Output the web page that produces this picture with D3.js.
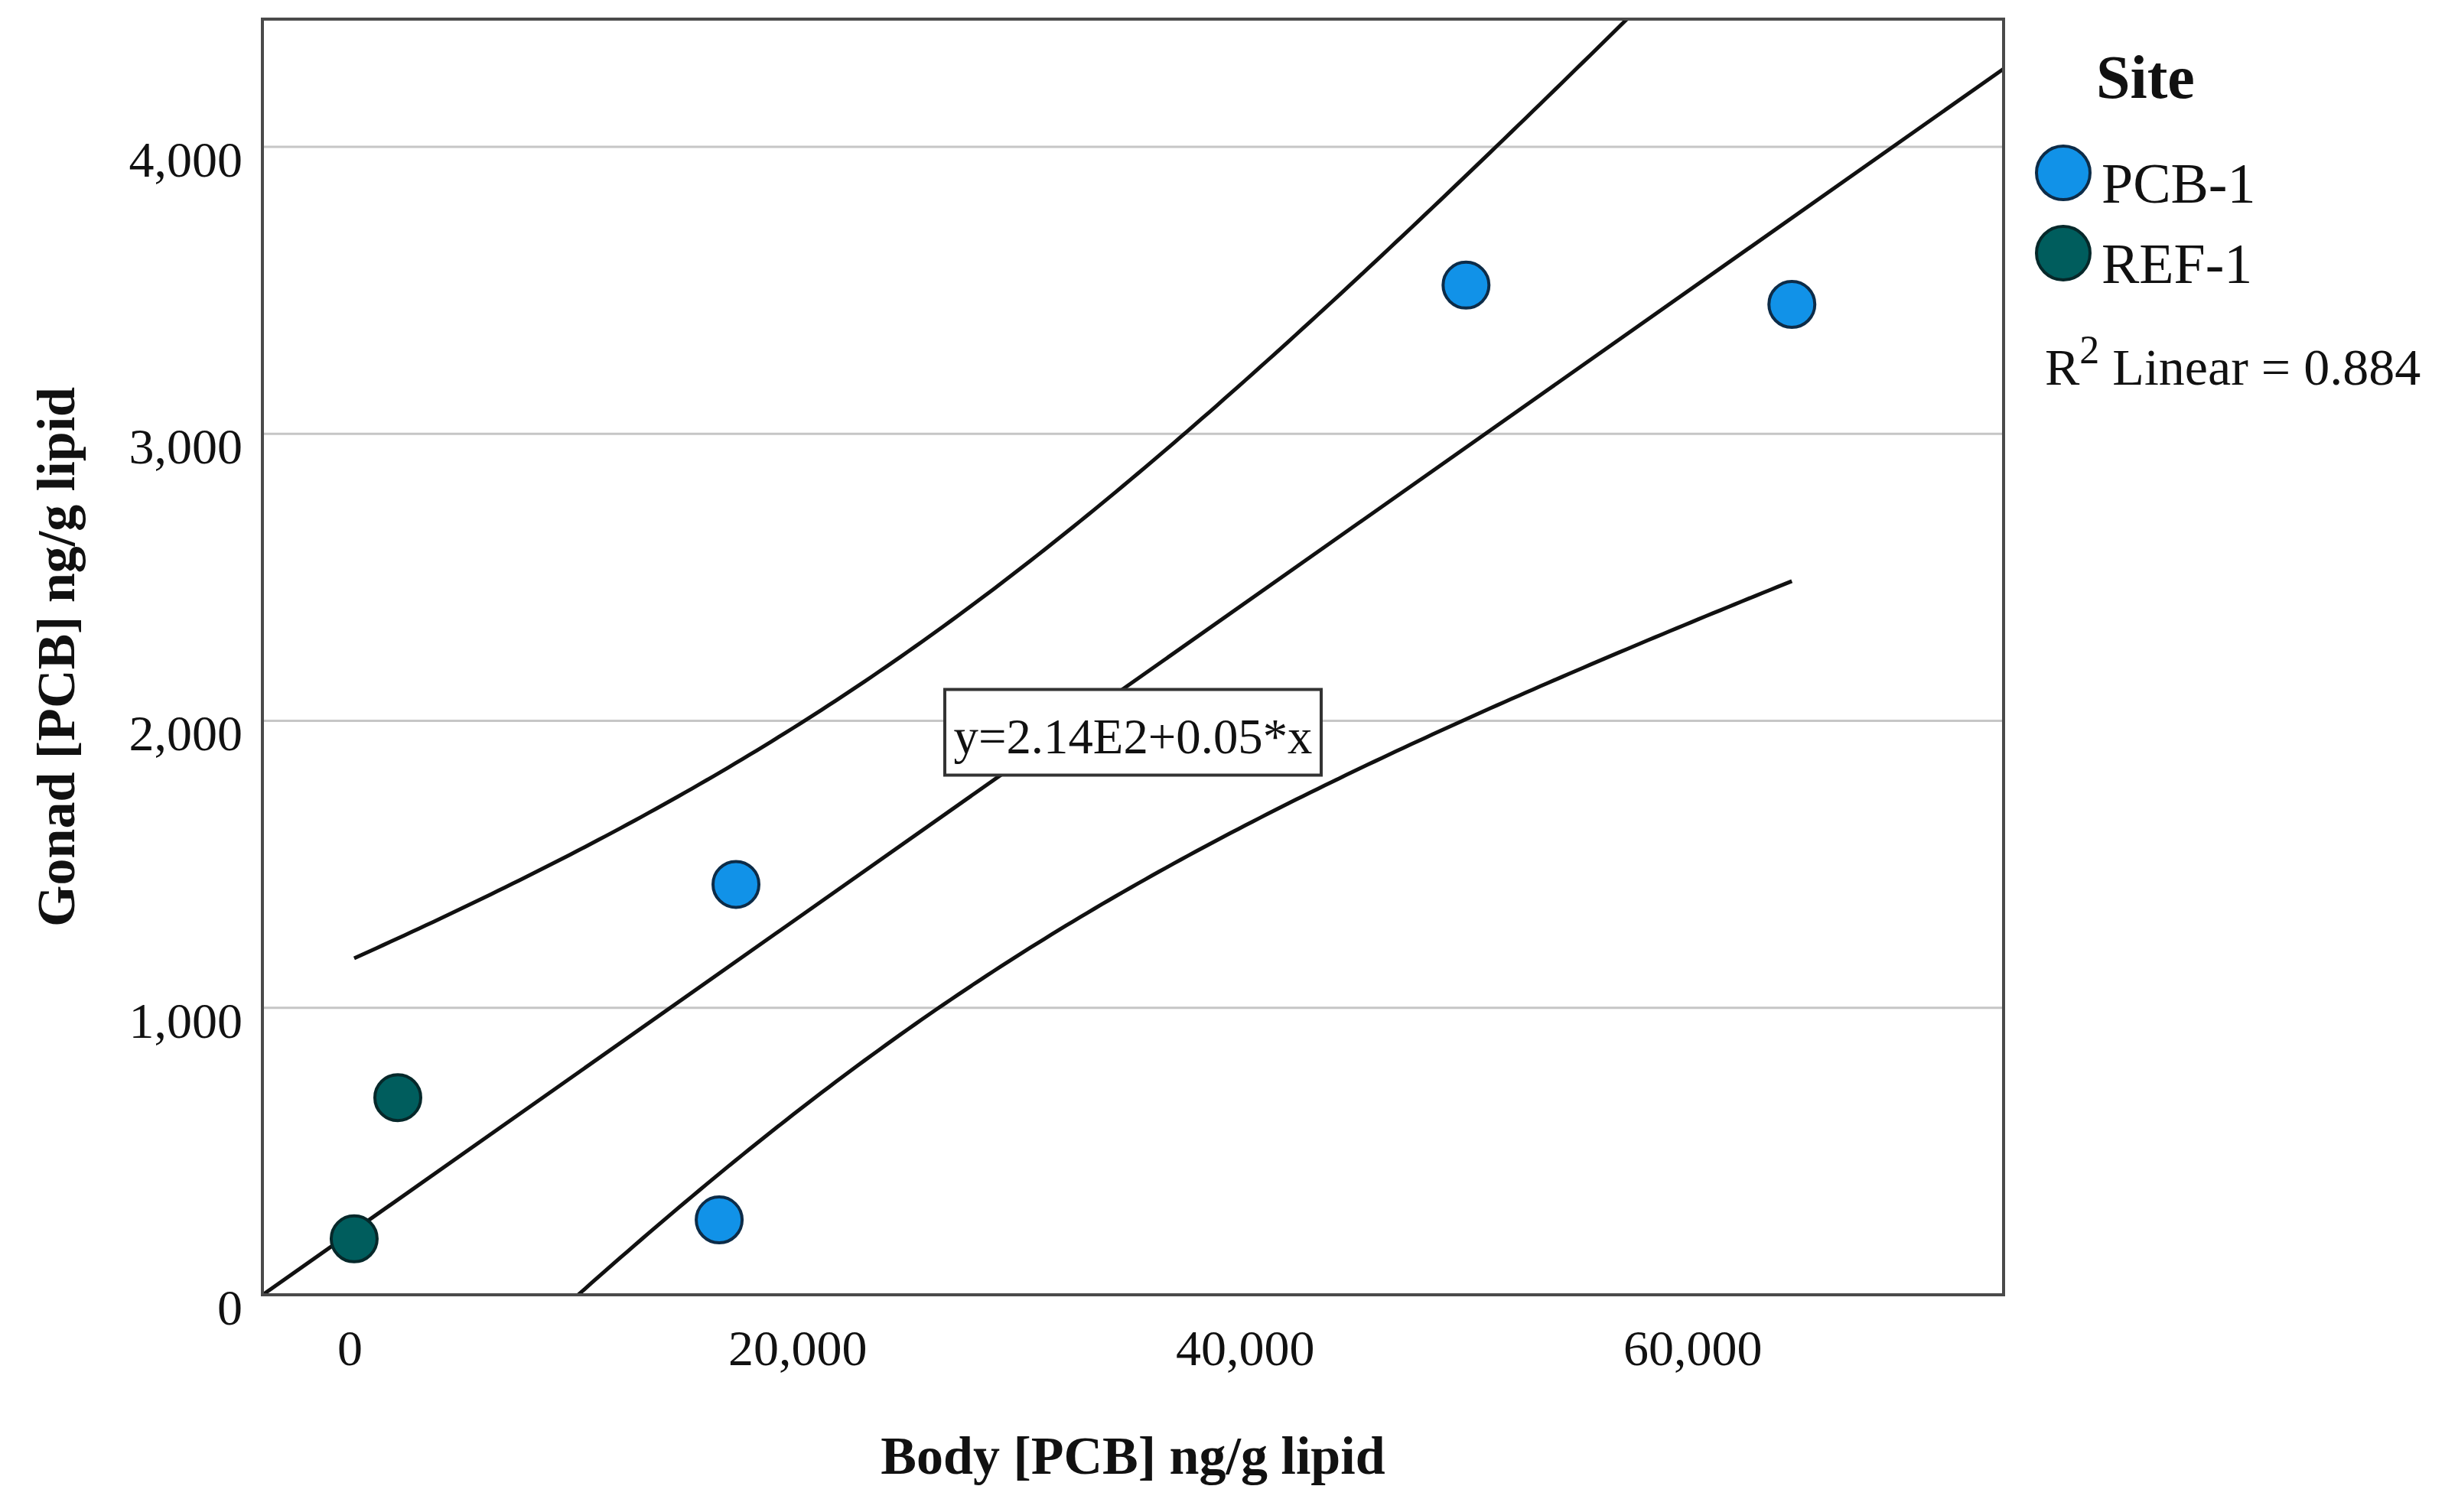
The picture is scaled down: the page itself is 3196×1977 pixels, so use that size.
<!DOCTYPE html>
<html>
<head>
<meta charset="utf-8">
<script src="https://cdn.jsdelivr.net/npm/d3@7"></script>
<style>
    body { margin: 0; background: #ffffff; }
    text { font-family: 'Liberation Serif', 'DejaVu Serif', serif; fill: #111111; }
</style>
</head>
<body>
<div id="graph"></div>
<script>
// The data...
var sites       = [ 'PCB-1', 'REF-1' ];
var siteColours = [ '#1192e8', '#005d5d' ];
var siteStroke  = [ '#0d2c48', '#06282a' ];

var bodyPCB   = [ 17260, 16510, 49880, 64440, 200, 2150 ];
var gonadPCB  = [ 1430,  261,   3518,  3451,  195, 687 ];
var pointSite = [ 0,     0,     0,     0,     1,   1 ];

var xTicks = [ 0, 20000, 40000, 60000 ];
var yTicks = [ 0, 1000, 2000, 3000, 4000 ];

var xDomain = [ -3900, 73900 ];
var yDomain = [ 0, 4445 ];

var equationText = 'y=2.14E2+0.05*x';
var equationAt   = [ 35000, 1960 ];
var r2Value      = '0.884';

// t(0.975, df = 4) for the 95% mean confidence band
var tCrit = 2.776;

var margin = { top: 25, right: 577, bottom: 284, left: 343 };
var width  = 3196 - margin.left - margin.right;
var height = 1977 - margin.top - margin.bottom;

var svg = d3.select ('#graph').append ('svg')
            .attr ('width', 3196)
            .attr ('height', 1977);

var g = svg.append ('g')
           .attr ('transform', 'translate(' + margin.left + ',' + margin.top + ')');

var xScale = d3.scaleLinear ().domain (xDomain).range ([ 0, width ]);
var yScale = d3.scaleLinear ().domain (yDomain).range ([ height, 0 ]);

// gridlines
g.selectAll ('.grid')
 .data (yTicks.filter (function (d) { return d > 0; }))
 .enter ()
 .append ('line')
 .attr ('x1', 0)
 .attr ('x2', width)
 .attr ('y1', function (d) { return yScale (d); })
 .attr ('y2', function (d) { return yScale (d); })
 .attr ('stroke', '#c6c6c6')
 .attr ('stroke-width', 3);

// y axis labels
var yAxis = d3.axisLeft (yScale)
              .tickValues (yTicks)
              .tickSize (0)
              .tickPadding (26)
              .tickFormat (d3.format (','));

g.append ('g')
 .call (yAxis)
 .call (function (s) { s.select ('.domain').remove (); })
 .selectAll ('text')
 .attr ('dy', '0.58em')
 .attr ('font-size', 66)
 .attr ('font-family', 'Liberation Serif')
 .attr ('fill', '#111');

// x axis labels
var xAxis = d3.axisBottom (xScale)
              .tickValues (xTicks)
              .tickSize (0)
              .tickPadding (45)
              .tickFormat (d3.format (','));

g.append ('g')
 .attr ('transform', 'translate(0,' + height + ')')
 .call (xAxis)
 .call (function (s) { s.select ('.domain').remove (); })
 .selectAll ('text')
 .attr ('font-size', 66)
 .attr ('font-family', 'Liberation Serif')
 .attr ('fill', '#111');

// regression
var n  = bodyPCB.length;
var mx = d3.mean (bodyPCB);
var my = d3.mean (gonadPCB);
var sxx = 0, sxy = 0;
for (var i = 0; i < n; i++)
{
    sxx += (bodyPCB[i] - mx) * (bodyPCB[i] - mx);
    sxy += (bodyPCB[i] - mx) * (gonadPCB[i] - my);
}
var slope = sxy / sxx;
var intercept = my - slope * mx;
var sse = 0;
for (var i = 0; i < n; i++)
{
    var res = gonadPCB[i] - (intercept + slope * bodyPCB[i]);
    sse += res * res;
}
var s = Math.sqrt (sse / (n - 2));

var fit = function (x) { return intercept + slope * x; };
var half = function (x) { return tCrit * s * Math.sqrt (1 / n + (x - mx) * (x - mx) / sxx); };

svg.append ('defs').append ('clipPath')
   .attr ('id', 'plotClip')
   .append ('rect')
   .attr ('width', width)
   .attr ('height', height);

var line = d3.line ()
             .x (function (d) { return xScale (d[0]); })
             .y (function (d) { return yScale (d[1]); });

var lines = g.append ('g').attr ('clip-path', 'url(#plotClip)');

lines.append ('path')
     .attr ('d', line ([ [ xDomain[0], fit (xDomain[0]) ], [ xDomain[1], fit (xDomain[1]) ] ]))
     .attr ('fill', 'none')
     .attr ('stroke', '#111')
     .attr ('stroke-width', 5);

var minX = d3.min (bodyPCB), maxX = d3.max (bodyPCB);
var xs = d3.range (0, 201).map (function (k) { return minX + (maxX - minX) * k / 200; });

lines.append ('path')
     .attr ('d', line (xs.map (function (x) { return [ x, fit (x) + half (x) ]; })))
     .attr ('fill', 'none')
     .attr ('stroke', '#111')
     .attr ('stroke-width', 5);

lines.append ('path')
     .attr ('d', line (xs.map (function (x) { return [ x, fit (x) - half (x) ]; })))
     .attr ('fill', 'none')
     .attr ('stroke', '#111')
     .attr ('stroke-width', 5);

// points
g.selectAll ('.pt')
 .data (bodyPCB)
 .enter ()
 .append ('circle')
 .attr ('cx', function (d) { return xScale (d); })
 .attr ('cy', function (d, i) { return yScale (gonadPCB[i]); })
 .attr ('r', 30)
 .attr ('fill', function (d, i) { return siteColours[pointSite[i]]; })
 .attr ('stroke', function (d, i) { return siteStroke[pointSite[i]]; })
 .attr ('stroke-width', 4);

// equation label
var eqX = xScale (equationAt[0]);
var eqY = yScale (equationAt[1]);
g.append ('rect')
 .attr ('x', eqX - 246)
 .attr ('y', eqY - 56)
 .attr ('width', 492)
 .attr ('height', 112)
 .attr ('fill', '#ffffff')
 .attr ('stroke', '#333')
 .attr ('stroke-width', 4);

g.append ('text')
 .attr ('x', eqX)
 .attr ('y', eqY + 27)
 .attr ('text-anchor', 'middle')
 .attr ('font-size', 66)
 .attr ('textLength', 469)
 .attr ('lengthAdjust', 'spacingAndGlyphs')
 .text (equationText);

// frame
g.append ('rect')
 .attr ('width', width)
 .attr ('height', height)
 .attr ('fill', 'none')
 .attr ('stroke', '#4a4a4a')
 .attr ('stroke-width', 4);

// axis titles
svg.append ('text')
   .attr ('x', margin.left + width / 2)
   .attr ('y', 1927)
   .attr ('text-anchor', 'middle')
   .attr ('font-size', 70)
   .attr ('font-weight', 'bold')
   .text ('Body [PCB] ng/g lipid');

svg.append ('text')
   .attr ('transform', 'translate(97,' + (margin.top + height / 2) + ') rotate(-90)')
   .attr ('text-anchor', 'middle')
   .attr ('font-size', 70)
   .attr ('font-weight', 'bold')
   .text ('Gonad [PCB] ng/g lipid');

// legend
svg.append ('text')
   .attr ('x', 2740)
   .attr ('y', 128)
   .attr ('font-size', 80)
   .attr ('font-weight', 'bold')
   .text ('Site');

var legend = svg.selectAll ('.legend')
                .data (sites)
                .enter ()
                .append ('g')
                .attr ('transform', function (d, i) { return 'translate(2697,' + (226 + i * 105) + ')'; });

legend.append ('circle')
      .attr ('r', 35)
      .attr ('fill', function (d, i) { return siteColours[i]; })
      .attr ('stroke', function (d, i) { return siteStroke[i]; })
      .attr ('stroke-width', 4);

legend.append ('text')
      .attr ('x', 50)
      .attr ('y', 39)
      .attr ('font-size', 74)
      .text (function (d) { return d; });

var r2 = svg.append ('text')
            .attr ('x', 2673)
            .attr ('y', 503)
            .attr ('font-size', 68);
r2.append ('tspan').text ('R');
r2.append ('tspan').attr ('font-size', 52).attr ('dy', -28).text ('2');
r2.append ('tspan').attr ('dy', 28).text (' Linear = ' + r2Value);
</script>
</body>
</html>
